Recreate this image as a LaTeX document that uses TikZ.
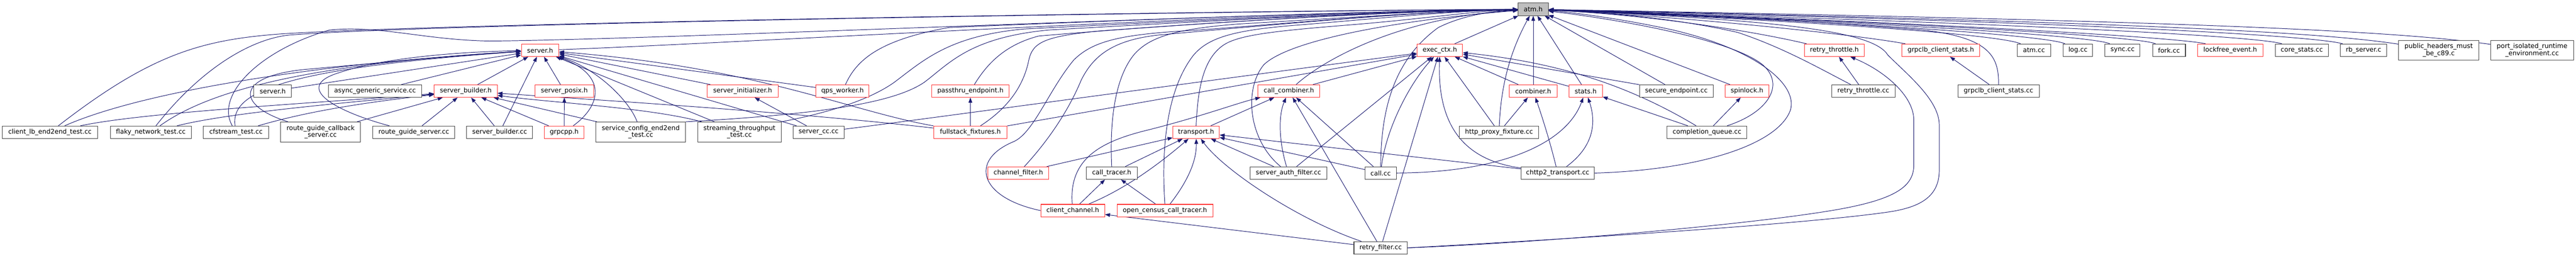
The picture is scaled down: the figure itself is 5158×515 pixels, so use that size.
\documentclass[tikz,border=0pt]{standalone}
\usepackage{fontspec}
\setmainfont{DejaVu Sans}
\usetikzlibrary{arrows.meta}
\definecolor{edgeblue}{HTML}{191970}
\definecolor{ndred}{HTML}{FF3030}
\definecolor{ndgray}{HTML}{404040}
\definecolor{ndfill}{HTML}{BFBFBF}
\pgfdeclarelayer{bglayer}
\pgfdeclarelayer{edgelayer}
\pgfsetlayers{bglayer,edgelayer,main}
\begin{document}
\begin{tikzpicture}[x=0.75pt,y=-0.75pt,
  nd/.style={draw=ndgray, fill=white, line width=0.8pt, inner sep=0pt, minimum height=18.75pt, align=center, font=\fontsize{9.7pt}{10.5pt}\selectfont},
  rd/.style={nd, draw=ndred},
  gd/.style={nd, fill=ndfill},
  tall/.style={minimum height=30pt},
  bw/.style={minimum width=#1*0.75pt},
  edge/.style={draw=edgeblue, line width=0.75pt, -{Triangle[length=7.5pt,width=5.5pt]}},
]
\useasboundingbox (0,0) rectangle (5158,515);
\begin{pgfonlayer}{bglayer}
\fill[white] (0,0) rectangle (5158,515);
\end{pgfonlayer}

% row 1
\node[gd, bw=60] (atm) at (3070,18.5) {atm.h};
% row 2
\node[rd, bw=75] (serverh) at (1081.5,100.5) {server.h};
\node[rd, bw=91] (execctx) at (2883,100.5) {exec\_ctx.h};
\node[rd, bw=120] (rthrh) at (3673,100.5) {retry\_throttle.h};
\node[rd, bw=156] (glbh) at (3886,100.5) {grpclb\_client\_stats.h};
\node[nd, bw=67] (atmcc) at (4072.6,100.5) {atm.cc};
\node[nd, bw=59] (logcc) at (4160.6,100.5) {log.cc};
\node[nd, bw=70] (synccc) at (4250,100.5) {sync.cc};
\node[nd, bw=66] (forkcc) at (4343,100.5) {fork.cc};
\node[rd, bw=131] (lfe) at (4465.7,100.5) {lockfree\_event.h};
\node[nd, bw=106] (corestats) at (4609,100.5) {core\_stats.cc};
\node[nd, bw=93] (rbserver) at (4732.6,100.5) {rb\_server.c};
\node[nd, tall, bw=160] (phmb) at (4883,100.5) {public\_headers\_must\\\_be\_c89.c};
\node[nd, tall, bw=166] (pire) at (5070,100.5) {port\_isolated\_runtime\\\_environment.cc};
% row 3
\node[nd, bw=75] (serverhb) at (546,182) {server.h};
\node[nd, bw=186] (async) at (751,182) {async\_generic\_service.cc};
\node[rd, bw=126] (sbh) at (932.6,182) {server\_builder.h};
\node[rd, bw=117] (sposix) at (1130,182) {server\_posix.h};
\node[rd, bw=143] (sinit) at (1487,182) {server\_initializer.h};
\node[rd, bw=106] (qps) at (1687,182) {qps\_worker.h};
\node[rd, bw=155] (passthru) at (1943,182) {passthru\_endpoint.h};
\node[rd, bw=124] (ccomb) at (2580.7,182) {call\_combiner.h};
\node[rd, bw=95] (comb) at (3070,182) {combiner.h};
\node[rd, bw=67] (stats) at (3175,182) {stats.h};
\node[nd, bw=147] (secep) at (3356.6,182) {secure\_endpoint.cc};
\node[rd, bw=88] (spin) at (3498,182) {spinlock.h};
\node[nd, bw=127] (rthrcc) at (3731,182) {retry\_throttle.cc};
\node[nd, bw=163] (glbcc) at (4001.6,182) {grpclb\_client\_stats.cc};
% row 4
\node[nd, bw=191] (clientlb) at (100,264.5) {client\_lb\_end2end\_test.cc};
\node[nd, bw=162] (flaky) at (302,264.5) {flaky\_network\_test.cc};
\node[nd, bw=131] (cfs) at (472.5,264.5) {cfstream\_test.cc};
\node[nd, tall, bw=160] (rgcb) at (642,264) {route\_guide\_callback\\\_server.cc};
\node[nd, bw=164] (rgs) at (828.6,264.5) {route\_guide\_server.cc};
\node[nd, bw=132] (sbcc) at (1000.4,264.5) {server\_builder.cc};
\node[rd, bw=79] (grpcpp) at (1129.7,264.5) {grpcpp.h};
\node[nd, tall, bw=179] (sce) at (1283,264) {service\_config\_end2end\\\_test.cc};
\node[nd, tall, bw=167] (stt) at (1480.6,264) {streaming\_throughput\\\_test.cc};
\node[nd, bw=102] (servercc) at (1639,264.5) {server\_cc.cc};
\node[rd, bw=147] (fsf) at (1943,264.5) {fullstack\_fixtures.h};
\node[rd, bw=93] (transport) at (2395,264.5) {transport.h};
\node[nd, bw=159] (httpp) at (3001.5,264.5) {http\_proxy\_fixture.cc};
\node[nd, bw=160] (cq) at (3418,264.5) {completion\_queue.cc};
% row 5
\node[rd, bw=122] (chf) at (2039,346) {channel\_filter.h};
\node[nd, bw=102] (ctr) at (2226,346) {call\_tracer.h};
\node[nd, bw=153] (saf) at (2580,346) {server\_auth\_filter.cc};
\node[nd, bw=63] (callcc) at (2764.5,346) {call.cc};
\node[nd, bw=147] (chttp2) at (3119,346) {chttp2\_transport.cc};
% row 6
\node[rd, bw=128] (cch) at (2148,421) {client\_channel.h};
\node[rd, bw=192] (occt) at (2332.5,421) {open\_census\_call\_tracer.h};
% row 7
\node[nd, bw=107] (rf) at (2764.5,495.5) {retry\_filter.cc};

\begin{pgfonlayer}{edgelayer}
% ---- into atm.h from the left
\draw[edge] (clientlb) .. controls (300,110) and (400,80) .. (560,68) .. controls (900,45) and (2600,20) .. (atm);
\draw[edge] (flaky) .. controls (400,140) and (500,78) .. (580,70) .. controls (900,45) and (2600,21) .. (atm);
\draw[edge] (cfs) .. controls (430,190) and (520,100) .. (660,60) .. controls (760,50) and (850,80) .. (980,82) .. controls (1300,80) and (2600,22) .. (atm);
\draw[edge] (serverh) .. controls (1400,90) and (2500,25) .. (atm);
\draw[edge] (sce.north east) .. controls (1650,228) and (1790,205) .. (1850,165) .. controls (1900,128) and (1940,75) .. (2100,60) .. controls (2450,40) and (2800,22) .. (atm);
\draw[edge] (stt.north east) .. controls (1660,225) and (1740,200) .. (1790,165) .. controls (1850,120) and (1900,72) .. (2050,58) .. controls (2400,40) and (2800,23) .. (atm);
\draw[edge] (qps) .. controls (1715,120) and (1760,80) .. (1900,55) .. controls (2300,38) and (2800,21) .. (atm);
\draw[edge] (passthru) .. controls (1975,130) and (2010,90) .. (2080,72) .. controls (2400,45) and (2800,22) .. (atm);
\draw[edge] (fsf) .. controls (2020,215) and (2050,170) .. (2060,120) .. controls (2068,85) and (2090,73) .. (2200,62) .. controls (2500,40) and (2800,22) .. (atm);
\draw[edge] (chf) .. controls (2100,280) and (2140,220) .. (2165,160) .. controls (2190,110) and (2230,80) .. (2320,70) .. controls (2600,45) and (2850,22) .. (atm);
\draw[edge] (cch.west) .. controls (1960,395) and (1940,320) .. (2030,283) .. controls (2070,265) and (2100,180) .. (2150,120) .. controls (2190,80) and (2250,68) .. (2400,60) .. controls (2600,45) and (2850,22) .. (atm);
\draw[edge] (ctr.north) .. controls (2222,250) and (2230,160) .. (2270,110) .. controls (2300,75) and (2350,58) .. (2480,48) .. controls (2700,35) and (2900,22) .. (atm);
\draw[edge] (occt.north) .. controls (2325,300) and (2335,180) .. (2390,110) .. controls (2420,75) and (2470,60) .. (2600,50) .. controls (2750,38) and (2900,22) .. (atm);
\draw[edge] (transport.north) .. controls (2398,190) and (2405,120) .. (2450,90) .. controls (2480,70) and (2550,62) .. (2700,50) .. controls (2850,38) and (2950,22) .. (atm);
\draw[edge] (ccomb) .. controls (2650,120) and (2800,35) .. (atm);
\draw[edge] (saf) .. controls (2500,280) and (2490,180) .. (2530,130) .. controls (2580,80) and (2800,40) .. (atm);
\draw[edge] (callcc) .. controls (2765,220) and (2790,120) .. (2880,55) .. controls (2930,30) and (2990,22) .. (atm);
\draw[edge] (execctx) -- (atm);
\draw[edge] (httpp) .. controls (3005,180) and (3020,110) .. (atm);
\draw[edge] (comb) -- (atm);
\draw[edge] (stats) -- (atm);
\draw[edge] (secep) -- (atm);
\draw[edge] (spin) -- (atm);
% ---- into atm.h from the right
\draw[edge] (cq) .. controls (3540,225) and (3575,170) .. (3530,130) .. controls (3470,80) and (3250,40) .. (atm);
\draw[edge] (chttp2.east) .. controls (3400,340) and (3560,290) .. (3585,220) .. controls (3600,170) and (3520,100) .. (3350,60) .. controls (3250,38) and (3150,25) .. (atm);
\draw[edge] (rthrh) .. controls (3500,60) and (3300,30) .. (atm);
\draw[edge] (rthrcc) .. controls (3640,135) and (3570,95) .. (3480,65) .. controls (3350,35) and (3200,24) .. (atm);
\draw[edge] (glbh) .. controls (3720,70) and (3400,35) .. (atm);
\draw[edge] (glbcc.north) .. controls (4003,110) and (3980,75) .. (3850,60) .. controls (3600,40) and (3300,24) .. (atm);
\draw[edge] (rf.east) .. controls (3100,480) and (3600,450) .. (3780,424) .. controls (3850,414) and (3883,390) .. (3883,340) -- (3883,250) .. controls (3883,200) and (3820,150) .. (3780,110) .. controls (3750,60) and (3550,40) .. (atm);
\draw[edge] (atmcc) .. controls (4020,75) and (3800,50) .. (atm);
\draw[edge] (logcc) .. controls (4110,75) and (3850,50) .. (atm);
\draw[edge] (synccc) .. controls (4200,75) and (3900,50) .. (atm);
\draw[edge] (forkcc) .. controls (4290,75) and (3950,50) .. (atm);
\draw[edge] (lfe) .. controls (4380,78) and (4000,50) .. (atm);
\draw[edge] (corestats) .. controls (4540,78) and (4300,55) .. (atm);
\draw[edge] (rbserver) .. controls (4660,78) and (4400,50) .. (atm);
\draw[edge] (phmb) .. controls (4650,65) and (4300,45) .. (atm);
\draw[edge] (pire) .. controls (4800,62) and (4400,42) .. (atm);
% ---- into server.h
\draw[edge] (clientlb) .. controls (280,185) and (620,128) .. (serverh);
\draw[edge] (flaky) .. controls (420,180) and (620,128) .. (serverh);
\draw[edge] (cfs) .. controls (462,190) and (540,138) .. (serverh);
\draw[edge] (rgcb) .. controls (470,210) and (470,150) .. (620,138) .. controls (800,122) and (950,108) .. (serverh);
\draw[edge] (serverhb) -- (serverh);
\draw[edge] (async) -- (serverh);
\draw[edge] (sbh) -- (serverh);
\draw[edge] (sbcc) -- (serverh);
\draw[edge] (sposix) -- (serverh);
\draw[edge] (grpcpp) .. controls (1205,210) and (1215,150) .. (serverh);
\draw[edge] (rgs) .. controls (680,225) and (580,175) .. (680,145) .. controls (760,118) and (900,104) .. (serverh);
\draw[edge] (sinit) -- (serverh);
\draw[edge] (qps) -- (serverh);
\draw[edge] (servercc) -- (serverh);
\draw[edge] (stt) -- (serverh);
\draw[edge] (sce) .. controls (1262,205) and (1200,140) .. (serverh);
\draw[edge] (fsf) .. controls (1700,222) and (1520,135) .. (serverh);
% ---- into server_builder.h
\draw[edge] (clientlb) .. controls (290,224) and (650,205) .. (sbh);
\draw[edge] (flaky) .. controls (465,224) and (700,205) .. (sbh);
\draw[edge] (cfs) .. controls (611,224) and (720,206) .. (sbh);
\draw[edge] (rgcb) -- (sbh);
\draw[edge] (rgs) -- (sbh);
\draw[edge] (sbcc) -- (sbh);
\draw[edge] (grpcpp) -- (sbh);
\draw[edge] (sce) -- (sbh);
\draw[edge] (stt) .. controls (1300,215) and (1100,205) .. (sbh);
\draw[edge] (fsf) .. controls (1600,225) and (1200,200) .. (sbh);
% ---- other server side
\draw[edge] (grpcpp) -- (sposix);
\draw[edge] (servercc) -- (sinit);
\draw[edge] (fsf) -- (passthru);
% ---- into exec_ctx.h
\draw[edge] (servercc) .. controls (1800,245) and (2500,150) .. (execctx);
\draw[edge] (fsf) -- (execctx);
\draw[edge] (ccomb) -- (execctx);
\draw[edge] (saf) -- (execctx);
\draw[edge] (callcc) .. controls (2775,260) and (2820,170) .. (execctx);
\draw[edge] (rf) -- (execctx);
\draw[edge] (chttp2) .. controls (2930,320) and (2878,250) .. (execctx);
\draw[edge] (httpp) -- (execctx);
\draw[edge] (comb) -- (execctx);
\draw[edge] (stats) -- (execctx);
\draw[edge] (secep) -- (execctx);
\draw[edge] (cq) .. controls (3260,170) and (3120,125) .. (execctx);
% ---- into call_combiner.h
\draw[edge] (transport) -- (ccomb);
\draw[edge] (cch) .. controls (2140,320) and (2200,285) .. (2290,262) .. controls (2400,235) and (2480,205) .. (ccomb);
\draw[edge] (saf) .. controls (2560,280) and (2560,230) .. (ccomb);
\draw[edge] (rf) -- (ccomb);
\draw[edge] (callcc) -- (ccomb);
% ---- into transport.h
\draw[edge] (chf) -- (transport);
\draw[edge] (ctr) -- (transport);
\draw[edge] (cch) .. controls (2260,375) and (2330,320) .. (transport);
\draw[edge] (occt) .. controls (2380,360) and (2396,320) .. (transport);
\draw[edge] (rf) .. controls (2600,440) and (2450,340) .. (transport);
\draw[edge] (saf) -- (transport);
\draw[edge] (callcc) -- (transport);
\draw[edge] (chttp2) -- (transport);
% ---- call_tracer.h, client_channel.h
\draw[edge] (cch) -- (ctr);
\draw[edge] (occt) -- (ctr);
\draw[edge] (rf) -- (cch);
% ---- combiner.h, stats.h, spinlock.h
\draw[edge] (httpp) -- (comb);
\draw[edge] (chttp2) .. controls (3104,285) and (3090,240) .. (comb);
\draw[edge] (chttp2) .. controls (3195,290) and (3195,240) .. (stats);
\draw[edge] (callcc) .. controls (3000,345) and (3135,290) .. (stats);
\draw[edge] (cq) -- (stats);
\draw[edge] (cq) -- (spin);
% ---- retry_throttle.h, grpclb_client_stats.h
\draw[edge] (rthrcc) -- (rthrh);
\draw[edge] (rf.east) .. controls (3100,485) and (3550,445) .. (3700,415) .. controls (3800,395) and (3832,370) .. (3832,330) -- (3832,240) .. controls (3832,190) and (3770,140) .. (rthrh);
\draw[edge] (glbcc) -- (glbh);
\end{pgfonlayer}
\end{tikzpicture}
\end{document}
